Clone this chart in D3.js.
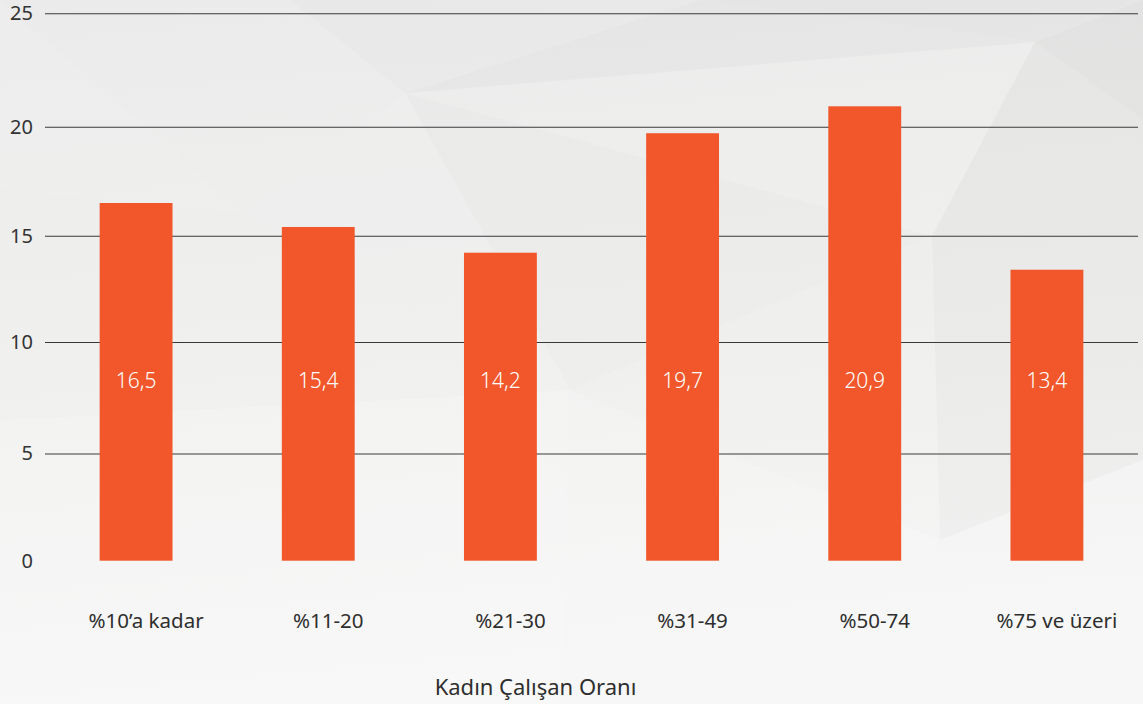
<!DOCTYPE html>
<html>
<head>
<meta charset="utf-8">
<script src="https://cdn.jsdelivr.net/npm/d3@7"></script>
<style>
html,body{margin:0;padding:0;background:#f1f1f1;}
svg{display:block;}
text{font-family:"Noto Sans","Open Sans",sans-serif;}
</style>
</head>
<body>
<svg id="chart" width="1143" height="704"></svg>
<script>
const categories = ["%10’a kadar", "%11-20", "%21-30", "%31-49", "%50-74", "%75 ve üzeri"];
const values = [16.5, 15.4, 14.2, 19.7, 20.9, 13.4];
const valueLabels = ["16,5", "15,4", "14,2", "19,7", "20,9", "13,4"];
const yTicks = [0, 5, 10, 15, 20, 25];
const axisTitle = "Kadın Çalışan Oranı";

const W = 1143, H = 704;
const svg = d3.select("#chart");

// background
const defs = svg.append("defs");
const g1 = defs.append("linearGradient").attr("id","bg").attr("x1",0).attr("y1",0).attr("x2",0.15).attr("y2",1);
g1.append("stop").attr("offset","0%").attr("stop-color","#e9eae9");
g1.append("stop").attr("offset","55%").attr("stop-color","#efefee");
g1.append("stop").attr("offset","100%").attr("stop-color","#f6f6f6");
svg.append("rect").attr("width",W).attr("height",H).attr("fill","url(#bg)");

// decorative low-poly facets
const facets = [
  {p:[[0,0],[290,0],[243,213],[33,30]], c:"#ffffff", o:0.08},
  {p:[[0,0],[33,30],[243,213],[0,190]], c:"#ffffff", o:0.14},
  {p:[[290,0],[700,0],[405,93]], c:"#000000", o:0.008},
  {p:[[700,0],[1035,42],[405,93]], c:"#000000", o:0.018},
  {p:[[700,0],[1143,0],[1035,42]], c:"#000000", o:0.022},
  {p:[[1035,42],[1143,0],[1143,120]], c:"#000000", o:0.035},
  {p:[[1035,42],[1143,120],[1143,240],[932,236]], c:"#000000", o:0.025},
  {p:[[405,93],[1035,42],[932,236]], c:"#ffffff", o:0.06},
  {p:[[405,93],[932,236],[570,390]], c:"#000000", o:0.006},
  {p:[[290,0],[405,93],[243,213]], c:"#ffffff", o:0.06},
  {p:[[243,213],[405,93],[570,390]], c:"#ffffff", o:0.10},
  {p:[[0,190],[243,213],[570,390],[0,420]], c:"#ffffff", o:0.08},
  {p:[[932,236],[1143,240],[1143,460],[940,540]], c:"#000000", o:0.018},
  {p:[[570,390],[932,236],[940,540]], c:"#ffffff", o:0.04},
  {p:[[0,420],[570,390],[560,704],[0,704]], c:"#ffffff", o:0.22},
  {p:[[570,390],[940,540],[760,704],[560,704]], c:"#ffffff", o:0.18},
  {p:[[940,540],[1143,460],[1143,704],[760,704]], c:"#ffffff", o:0.15}
];
svg.append("g").selectAll("polygon").data(facets).join("polygon")
  .attr("points", d => d.p.map(q => q.join(",")).join(" "))
  .attr("fill", d => d.c).attr("fill-opacity", d => d.o);

const x = d3.scaleBand().domain(categories).range([45, 1138]).paddingInner(0.6).paddingOuter(0.3);
const y = d3.scaleLinear().domain(yTicks).range([560.7, 453.5, 342, 235.7, 126.7, 13.3]);

// gridlines + y labels
const yAxis = d3.axisLeft(y).tickValues(yTicks).tickSize(-(1138 - 45)).tickPadding(12).tickFormat(d3.format("d"));
const ga = svg.append("g").attr("transform", "translate(45,0)").call(yAxis);
ga.select(".domain").remove();
ga.selectAll(".tick line").attr("stroke", "#3a3a3a").attr("stroke-width", 1.1)
  .attr("opacity", d => d === 0 ? 0 : 1);
ga.selectAll(".tick text").attr("fill", "#333").attr("font-size", 20).attr("font-family", "Noto Sans, sans-serif");

// bars
svg.append("g").selectAll("rect").data(values).join("rect")
  .attr("x", (d, i) => x(categories[i]))
  .attr("y", d => y(d))
  .attr("width", x.bandwidth())
  .attr("height", d => y(0) - y(d))
  .attr("fill", "#f1572b");

// value labels
svg.append("g").selectAll("text").data(valueLabels).join("text")
  .attr("x", (d, i) => x(categories[i]) + x.bandwidth() / 2)
  .attr("y", 380)
  .attr("text-anchor", "middle")
  .attr("dominant-baseline", "central")
  .attr("fill", "#ffffff")
  .attr("font-weight", 300)
  .attr("font-size", 21)
  .text(d => d);

// category labels
svg.append("g").selectAll("text").data(categories).join("text")
  .attr("x", (d) => x(d) + x.bandwidth() / 2 + 10)
  .attr("y", 628)
  .attr("text-anchor", "middle")
  .attr("fill", "#2e2e2e")
  .attr("font-size", 20.5)
  .text(d => d);

// axis title
svg.append("text")
  .attr("x", 535.5).attr("y", 695)
  .attr("text-anchor", "middle")
  .attr("fill", "#2e2e2e")
  .attr("font-size", 22)
  .text(axisTitle);
</script>
</body>
</html>
